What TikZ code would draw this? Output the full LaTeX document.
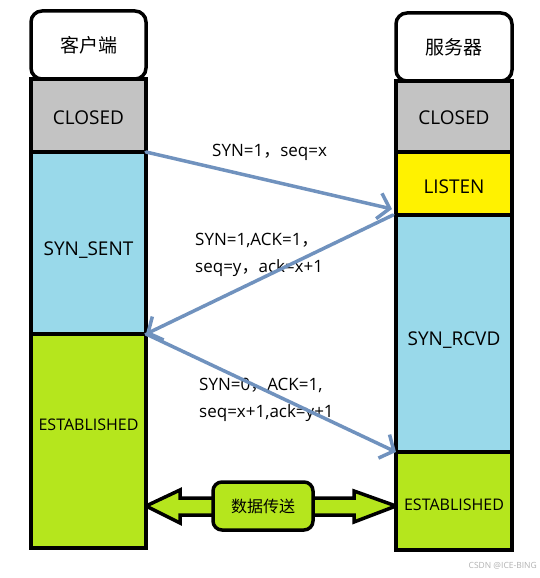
\documentclass[tikz,border=0pt]{standalone}
\usepackage{fontspec}
\setmainfont{Open Sans}
\newfontfamily\cjk{Noto Sans CJK SC}
\usetikzlibrary{arrows.meta,calc}
\definecolor{cgray}{HTML}{C3C3C3}
\definecolor{cblue}{HTML}{99D9EA}
\definecolor{cyellow}{HTML}{FFF200}
\definecolor{cgreen}{HTML}{B5E61D}
\definecolor{carrow}{HTML}{7092BE}
\pgfdeclarelayer{bg}
\pgfsetlayers{bg,main}
\begin{document}
\begin{tikzpicture}[x=1pt,y=-1pt,
  stbox/.style={draw=black, line width=3.5pt, inner sep=0pt, outer sep=0pt, font=\fontsize{19}{22}\selectfont},
  lcol/.style={stbox, minimum width=115pt},
  rcol/.style={stbox, minimum width=116pt},
  headbox/.style={fill=white, rounded corners=11pt},
  stlab/.style={font=\fontsize{19}{22}\selectfont, inner sep=0pt},
  estlab/.style={font=\fontsize{16}{19}\selectfont, inner sep=0pt},
  msglab/.style={anchor=west, inner sep=0pt, font=\fontsize{17}{20}\selectfont},
  msg/.style={draw=carrow, line width=3.5pt, line cap=round, -{Straight Barb[length=11pt,width=26pt,line width=3.5pt]}},
  blockar/.style={fill=cgreen, draw=black, line width=3.5pt, line join=miter},
  databox/.style={draw=black, fill=cgreen, line width=3.5pt, rounded corners=9pt, minimum width=100pt, minimum height=48pt, inner sep=0pt, outer sep=0pt, font=\cjk\fontsize{16}{19}\selectfont}
]
\useasboundingbox (0,0) rectangle (540,578);

% left column
\node[lcol, headbox, minimum height=68pt] (lhead) at (88.5,45) {\cjk 客户端};
\node[lcol, fill=cgray, minimum height=73pt] (lclosed) at (88.5,115.5) {};
\node[stlab] (lclosedt) at (88.5,118) {CLOSED};
\node[lcol, fill=cblue, minimum height=182pt] (lsynsent) at (88.5,243) {};
\node[stlab] (lsynsentt) at (88.5,250) {SYN\_SENT};
\node[lcol, fill=cgreen, minimum height=214pt] (lest) at (88.5,441) {};
\node[estlab] (lestt) at (88.5,425) {ESTABLISHED};

% right column
\node[rcol, headbox, minimum height=68pt] (rhead) at (454,47) {\cjk 服务器};
\node[rcol, fill=cgray, minimum height=71pt] (rclosed) at (454,116.5) {};
\node[stlab] (rclosedt) at (454,118) {CLOSED};
\node[rcol, fill=cyellow, minimum height=63pt] (rlisten) at (454,183.5) {};
\node[stlab] (rlistent) at (454,187) {LISTEN};
\node[rcol, fill=cblue, minimum height=237pt] (rsynrcvd) at (454,333.5) {};
\node[stlab] (rsynrcvdt) at (454,340) {SYN\_RCVD};
\node[rcol, fill=cgreen, minimum height=98pt] (rest) at (454,501) {};
\node[estlab] (restt) at (454,505) {ESTABLISHED};

% message labels
\node[msglab] (m1) at (212,152) {SYN=1{\cjk ，}seq=x};
\node[msglab] (m2a) at (195,240) {SYN=1,ACK=1{\cjk ，}};
\node[msglab] (m2b) at (195,268) {seq=y{\cjk ，}ack=x+1};
\node[msglab] (m3a) at (199,385) {SYN=0{\cjk ，}ACK=1,};
\node[msglab] (m3b) at (199,413) {seq=x+1,ack=y+1};

% message arrows
\draw[msg] (lclosed.south east) -- ($(rlisten.south west)+(-4,-6)$);
\draw[msg] ($(rsynrcvd.north west)+(-3,0)$) -- (lsynsent.south east);
\draw[msg] (lest.north east) -- (rest.north west);

% data transfer
\node[databox] (data) at (263,506) {数据传送};
\begin{pgfonlayer}{bg}
\draw[blockar] (lest.east |- data.west) -- ++(34,-16) -- ++(0,8) -- ++(40,0) -- ++(0,17) -- ++(-40,0) -- ++(0,8) -- cycle;
\draw[blockar] (rest.west |- data.east) -- ++(-42,-15) -- ++(0,7) -- ++(-45,0) -- ++(0,17) -- ++(45,0) -- ++(0,7) -- cycle;
\end{pgfonlayer}

\node[anchor=east, inner sep=0pt, text=black!30, font=\fontsize{8.5}{10}\selectfont] (wm) at (537,566) {CSDN @ICE-BING};
\end{tikzpicture}
\end{document}
